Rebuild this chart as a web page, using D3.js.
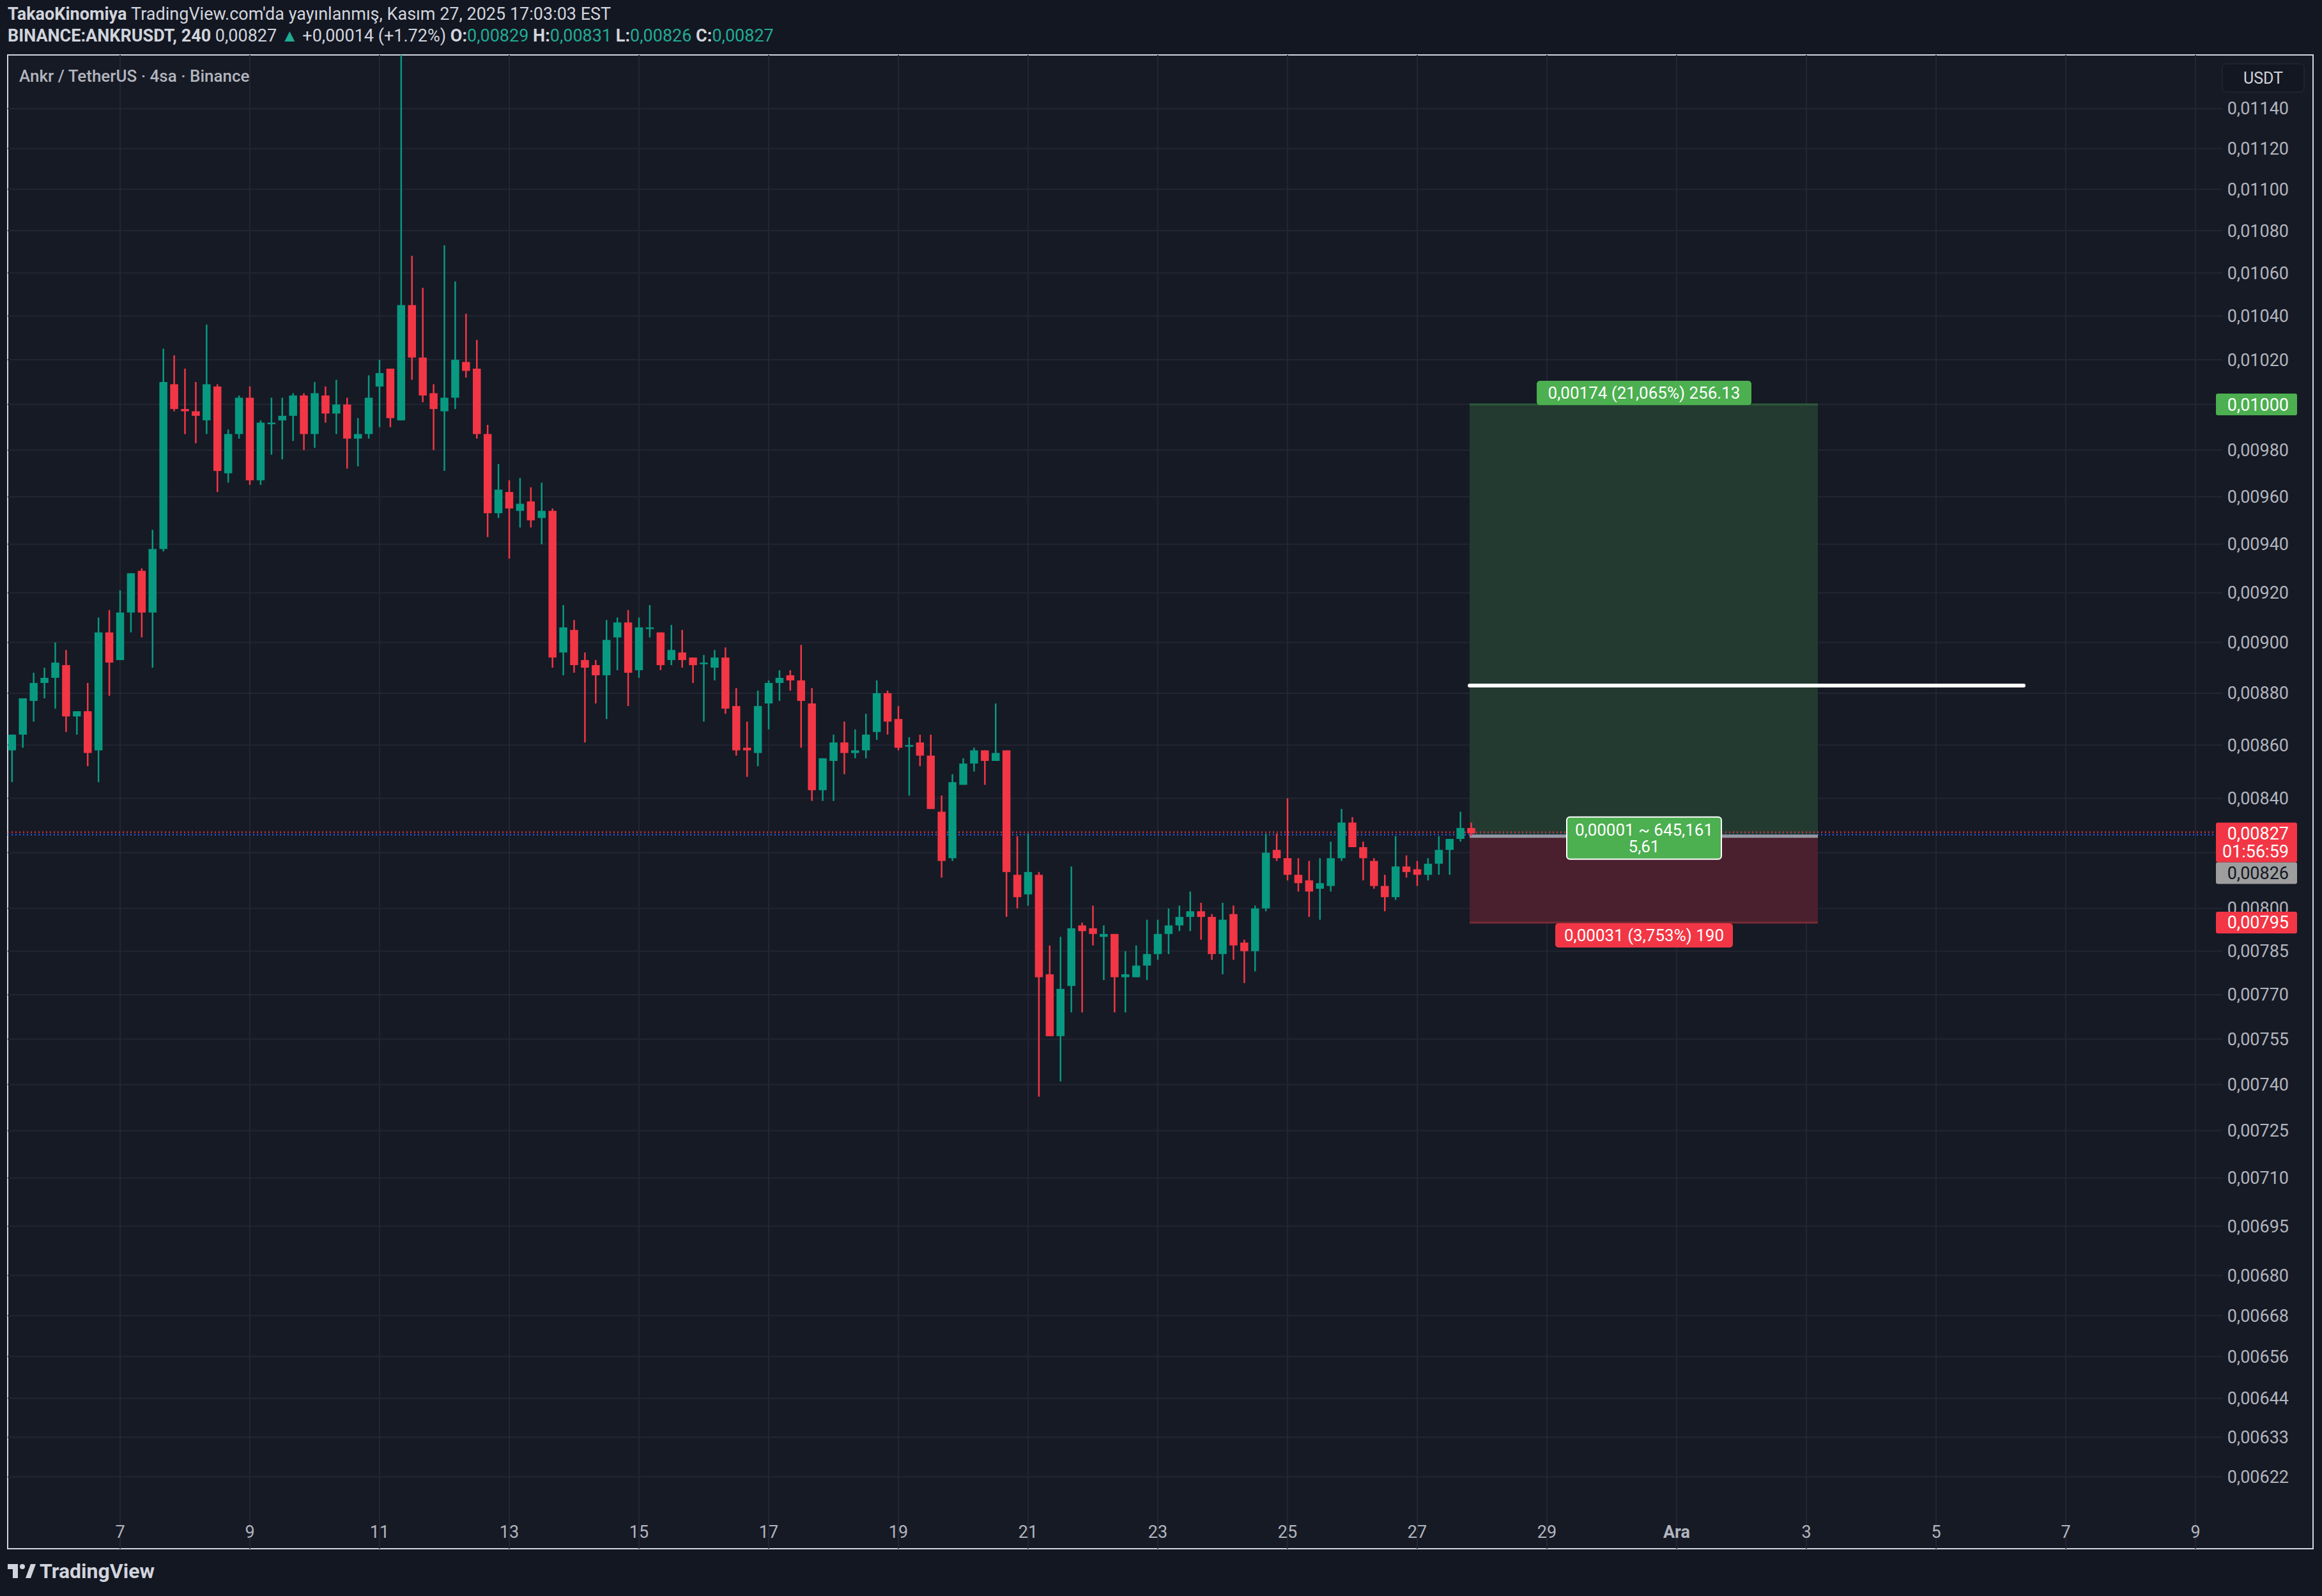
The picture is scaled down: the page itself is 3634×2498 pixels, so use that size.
<!DOCTYPE html>
<html><head><meta charset="utf-8">
<script src="https://cdn.jsdelivr.net/npm/d3@7"></script>
<style>body{margin:0;background:#131722;}svg{display:block;font-family:Roboto,"Noto Sans",sans-serif;}</style>
</head><body>
<script>
const openP=[0.00858,0.00864,0.00877,0.00884,0.00886,0.00891,0.00871,0.00873,0.00858,0.00904,0.00893,0.00912,0.00929,0.00912,0.00938,0.01009,0.00998,0.00997,0.00993,0.01008,0.00970,0.00987,0.01003,0.00967,0.00992,0.00993,0.00995,0.01004,0.00987,0.01004,0.00996,0.01000,0.00985,0.00987,0.01008,0.01016,0.00993,0.01045,0.01021,0.01005,0.00997,0.01003,0.01019,0.01016,0.00987,0.00953,0.00962,0.00954,0.00958,0.00951,0.00954,0.00896,0.00905,0.00893,0.00891,0.00887,0.00902,0.00908,0.00889,0.00906,0.00904,0.00893,0.00896,0.00894,0.00892,0.00890,0.00894,0.00875,0.00859,0.00857,0.00876,0.00884,0.00887,0.00885,0.00876,0.00843,0.00854,0.00861,0.00857,0.00858,0.00865,0.00880,0.00870,0.00860,0.00861,0.00856,0.00835,0.00818,0.00845,0.00853,0.00858,0.00854,0.00858,0.00812,0.00805,0.00812,0.00777,0.00756,0.00773,0.00794,0.00793,0.00790,0.00791,0.00776,0.00776,0.00780,0.00784,0.00791,0.00794,0.00797,0.00799,0.00797,0.00784,0.00798,0.00788,0.00785,0.00800,0.00821,0.00818,0.00812,0.00810,0.00807,0.00808,0.00818,0.00831,0.00822,0.00817,0.00808,0.00804,0.00815,0.00814,0.00812,0.00816,0.00821,0.00825,0.00829];
const highP=[0.00864,0.00878,0.00888,0.00890,0.00900,0.00897,0.00873,0.00884,0.00910,0.00913,0.00921,0.00928,0.00930,0.00946,0.01025,0.01022,0.01016,0.01010,0.01036,0.01009,0.00989,0.01004,0.01008,0.00993,0.01003,0.01003,0.01005,0.01005,0.01010,0.01008,0.01011,0.01003,0.00994,0.01013,0.01020,0.01016,0.01190,0.01068,0.01053,0.01009,0.01073,0.01056,0.01041,0.01029,0.00991,0.00974,0.00967,0.00968,0.00964,0.00966,0.00955,0.00915,0.00909,0.00896,0.00893,0.00909,0.00910,0.00913,0.00910,0.00915,0.00904,0.00907,0.00905,0.00894,0.00895,0.00897,0.00898,0.00882,0.00869,0.00881,0.00885,0.00889,0.00889,0.00899,0.00882,0.00855,0.00864,0.00869,0.00866,0.00872,0.00885,0.00881,0.00875,0.00863,0.00864,0.00864,0.00841,0.00849,0.00855,0.00859,0.00858,0.00876,0.00858,0.00826,0.00827,0.00813,0.00787,0.00790,0.00815,0.00795,0.00801,0.00794,0.00791,0.00785,0.00787,0.00796,0.00796,0.00800,0.00801,0.00806,0.00802,0.00798,0.00802,0.00801,0.00789,0.00801,0.00827,0.00827,0.00840,0.00818,0.00817,0.00818,0.00824,0.00836,0.00833,0.00824,0.00818,0.00812,0.00826,0.00819,0.00817,0.00818,0.00826,0.00825,0.00835,0.00831];
const lowP=[0.00846,0.00859,0.00869,0.00878,0.00874,0.00865,0.00864,0.00852,0.00846,0.00879,0.00893,0.00904,0.00902,0.00890,0.00937,0.00997,0.00987,0.00983,0.00987,0.00962,0.00966,0.00985,0.00965,0.00965,0.00978,0.00976,0.00984,0.00980,0.00981,0.00992,0.00987,0.00972,0.00973,0.00985,0.00990,0.00990,0.00993,0.01011,0.01001,0.00980,0.00971,0.00998,0.01012,0.00985,0.00943,0.00951,0.00934,0.00947,0.00947,0.00940,0.00890,0.00887,0.00888,0.00861,0.00876,0.00870,0.00889,0.00875,0.00886,0.00902,0.00889,0.00891,0.00890,0.00884,0.00869,0.00885,0.00872,0.00856,0.00848,0.00852,0.00866,0.00877,0.00881,0.00859,0.00839,0.00839,0.00839,0.00849,0.00855,0.00855,0.00862,0.00864,0.00858,0.00841,0.00852,0.00836,0.00811,0.00817,0.00845,0.00850,0.00845,0.00854,0.00797,0.00800,0.00801,0.00736,0.00756,0.00741,0.00764,0.00764,0.00787,0.00775,0.00764,0.00764,0.00776,0.00775,0.00782,0.00784,0.00792,0.00792,0.00789,0.00782,0.00777,0.00782,0.00774,0.00778,0.00799,0.00817,0.00810,0.00806,0.00797,0.00796,0.00806,0.00817,0.00822,0.00810,0.00807,0.00799,0.00803,0.00811,0.00808,0.00810,0.00812,0.00812,0.00824,0.00826];
const closeP=[0.00864,0.00878,0.00884,0.00886,0.00892,0.00871,0.00873,0.00857,0.00904,0.00892,0.00912,0.00928,0.00912,0.00938,0.01010,0.00998,0.00997,0.00995,0.01009,0.00971,0.00987,0.01003,0.00967,0.00992,0.00992,0.00995,0.01004,0.00987,0.01005,0.00996,0.01000,0.00985,0.00987,0.01003,0.01014,0.00994,0.01045,0.01021,0.01004,0.00998,0.01003,0.01020,0.01015,0.00987,0.00953,0.00963,0.00955,0.00957,0.00950,0.00954,0.00894,0.00906,0.00891,0.00890,0.00887,0.00901,0.00908,0.00888,0.00906,0.00906,0.00891,0.00897,0.00893,0.00891,0.00892,0.00894,0.00874,0.00858,0.00858,0.00875,0.00884,0.00886,0.00885,0.00877,0.00843,0.00855,0.00861,0.00857,0.00858,0.00864,0.00880,0.00869,0.00859,0.00860,0.00856,0.00836,0.00817,0.00846,0.00853,0.00858,0.00854,0.00857,0.00813,0.00804,0.00813,0.00776,0.00756,0.00772,0.00793,0.00792,0.00791,0.00791,0.00776,0.00777,0.00780,0.00784,0.00791,0.00794,0.00797,0.00799,0.00797,0.00784,0.00796,0.00787,0.00785,0.00800,0.00820,0.00818,0.00812,0.00809,0.00806,0.00809,0.00818,0.00831,0.00822,0.00818,0.00808,0.00804,0.00815,0.00813,0.00812,0.00816,0.00821,0.00825,0.00829,0.00827];
const priceTicks=[0.0114,0.0112,0.0110,0.0108,0.0106,0.0104,0.0102,0.0100,0.0098,0.0096,0.0094,0.0092,0.0090,0.0088,0.0086,0.0084,0.0080,0.00785,0.0077,0.00755,0.0074,0.00725,0.0071,0.00695,0.0068,0.00668,0.00656,0.00644,0.00633,0.00622];
const gridExtra=[0.0082];
const dateTicks=["2025-11-07","2025-11-09","2025-11-11","2025-11-13","2025-11-15","2025-11-17","2025-11-19","2025-11-21","2025-11-23","2025-11-25","2025-11-27","2025-11-29","2025-12-01","2025-12-03","2025-12-05","2025-12-07","2025-12-09"];
const dateLabels=["7","9","11","13","15","17","19","21","23","25","27","29","Ara","3","5","7","9"];
const position={target:0.01000,entry:0.00826,stop:0.00795,line:0.00883,last:0.00827};
const startT=Date.UTC(2025,10,5,8);
const H4=4*3600*1000;

const W=3634,Hh=2498;
const pl=12,pr=3478,pt=86,pb=2424;
const svg=d3.select("body").append("svg").attr("width",W).attr("height",Hh);
svg.append("rect").attr("width",W).attr("height",Hh).attr("fill","#131722");
svg.append("rect").attr("x",pl).attr("y",pt).attr("width",3620-pl).attr("height",pb-pt).attr("fill","#161a25").attr("stroke","#d1d4dc").attr("stroke-width",2);

const x=d3.scaleUtc().domain([new Date("2025-11-07T00:00Z"),new Date("2025-12-09T00:00Z")]).range([188,3436]);
const y=d3.scaleLog().domain([0.011674,0.006025]).range([pt,pb]);
const fmt=v=>v.toFixed(5).replace(".",",");

const g=svg.append("g");
g.selectAll(".hg").data(priceTicks.concat(gridExtra)).join("line").attr("x1",pl).attr("x2",pr).attr("y1",d=>y(d)).attr("y2",d=>y(d)).attr("stroke","#232632").attr("stroke-width",2);
g.selectAll(".vg").data(dateTicks).join("line").attr("x1",d=>x(new Date(d+"T00:00Z"))).attr("x2",d=>x(new Date(d+"T00:00Z"))).attr("y1",pt).attr("y2",pb).attr("stroke","#232632").attr("stroke-width",2);

svg.append("clipPath").attr("id","cp").append("rect").attr("x",pl).attr("y",pt).attr("width",pr-pl).attr("height",pb-pt);
const plot=svg.append("g").attr("clip-path","url(#cp)");

const px0=2300,px1=2845;
plot.append("rect").attr("x",px0).attr("width",px1-px0).attr("y",y(position.target)).attr("height",y(position.entry)-y(position.target)).attr("fill","#233a31");
plot.append("rect").attr("x",px0).attr("width",px1-px0).attr("y",y(position.entry)).attr("height",y(position.stop)-y(position.entry)).attr("fill","#4a202e");
plot.append("line").attr("x1",px0).attr("x2",px1).attr("y1",y(position.target)).attr("y2",y(position.target)).attr("stroke","#2e5a3a").attr("stroke-width",3);
plot.append("line").attr("x1",px0).attr("x2",px1).attr("y1",y(position.stop)).attr("y2",y(position.stop)).attr("stroke","#7a2a35").attr("stroke-width",3);

plot.append("line").attr("x1",pl).attr("x2",pr).attr("y1",y(position.last)-2).attr("y2",y(position.last)-2).attr("stroke","#f23645").attr("stroke-width",2).attr("stroke-dasharray","2,4");
plot.append("line").attr("x1",pl).attr("x2",pr).attr("y1",y(position.last)+2).attr("y2",y(position.last)+2).attr("stroke","#2962ff").attr("stroke-width",2).attr("stroke-dasharray","2,4");
plot.append("line").attr("x1",px0).attr("x2",px1).attr("y1",y(position.entry)).attr("y2",y(position.entry)).attr("stroke","#9598a1").attr("stroke-width",5);

const data=openP.map((o,i)=>({t:new Date(startT+i*H4),o,h:highP[i],l:lowP[i],c:closeP[i]}));
const bw=12.5;
const cg=plot.selectAll(".c").data(data).join("g");
cg.append("line").attr("x1",d=>x(d.t)).attr("x2",d=>x(d.t)).attr("y1",d=>y(d.h)).attr("y2",d=>y(d.l)).attr("stroke",d=>d.c>=d.o?"#089981":"#f23645").attr("stroke-width",2.5);
cg.append("rect").attr("x",d=>x(d.t)-bw/2).attr("width",bw).attr("y",d=>y(Math.max(d.o,d.c))).attr("height",d=>Math.max(2.5,Math.abs(y(d.o)-y(d.c)))).attr("fill",d=>d.c>=d.o?"#089981":"#f23645");

plot.append("line").attr("x1",px0).attr("x2",3167).attr("y1",y(position.line)).attr("y2",y(position.line)).attr("stroke","#ffffff").attr("stroke-width",6).attr("stroke-linecap","round");

function box(cx,cy,w,h,fill,lines,stroke){
  svg.append("rect").attr("x",cx-w/2).attr("y",cy-h/2).attr("width",w).attr("height",h).attr("rx",5).attr("fill",fill).attr("stroke",stroke||"none").attr("stroke-width",2);
  lines.forEach((t,i)=>svg.append("text").attr("x",cx).attr("y",cy-(lines.length-1)*13+i*26).attr("dy","0.35em").attr("text-anchor","middle").attr("fill","#fff").attr("font-size",26).text(t));
}
box(2573,y(position.target)-18,336,38,"#4caf50",["0,00174 (21,065%) 256.13"]);
box(2573,y(position.stop)+20,278,38,"#f23645",["0,00031 (3,753%) 190"]);
box(2573,y(position.entry)+3,242,66,"#4caf50",["0,00001 ~ 645,161","5,61"],"#ffffff");

const ax=svg.append("g");
ax.selectAll("text.pt").data(priceTicks).join("text").attr("x",3582).attr("y",d=>y(d)).attr("dy","0.35em").attr("text-anchor","end").attr("fill","#b2b5be").attr("font-size",27).text(d=>fmt(d));
function plabel(yy,fill,txt,tc,h,sub){
  ax.append("rect").attr("x",3468).attr("y",yy-17).attr("width",127).attr("height",h||34).attr("rx",3).attr("fill",fill);
  ax.append("text").attr("x",3582).attr("y",yy).attr("dy","0.35em").attr("text-anchor","end").attr("fill",tc).attr("font-size",27).text(txt);
  if(sub) ax.append("text").attr("x",3582).attr("y",yy+28).attr("dy","0.35em").attr("text-anchor","end").attr("fill",tc).attr("font-size",27).text(sub);
}
plabel(y(position.target),"#4caf50","0,01000","#fff");
plabel(y(position.stop),"#f23645","0,00795","#fff");
plabel(y(position.last)+62,"#9e9e9e","0,00826","#131722");
plabel(y(position.last),"#f23645","0,00827","#fff",62,"01:56:59");
ax.append("rect").attr("x",3478).attr("y",100).attr("width",128).attr("height",44).attr("rx",6).attr("fill","#131722").attr("stroke","#2a2e39");
ax.append("text").attr("x",3542).attr("y",122).attr("dy","0.35em").attr("text-anchor","middle").attr("fill","#d1d4dc").attr("font-size",25).text("USDT");

svg.selectAll("text.dt").data(dateTicks).join("text").attr("x",d=>x(new Date(d+"T00:00Z"))).attr("y",2398).attr("dy","0.35em").attr("text-anchor","middle").attr("fill","#b2b5be").attr("font-size",27).attr("font-weight",(d,i)=>dateLabels[i]==="Ara"?"bold":"normal").text((d,i)=>dateLabels[i]);

const h1=svg.append("text").attr("x",12).attr("y",31).attr("font-size",27).attr("fill","#d1d4dc");
h1.append("tspan").attr("font-weight","bold").text("TakaoKinomiya ");
h1.append("tspan").text("TradingView.com'da yayınlanmış, Kasım 27, 2025 17:03:03 EST");
const h2=svg.append("text").attr("x",12).attr("y",65).attr("font-size",27).attr("fill","#d1d4dc");
h2.append("tspan").attr("font-weight","bold").text("BINANCE:ANKRUSDT, 240 ");
h2.append("tspan").text("0,00827 ");
h2.append("tspan").attr("fill","#22ab94").text("▲ ");
h2.append("tspan").text("+0,00014 (+1.72%) ");
[["O:","0,00829"],["H:","0,00831"],["L:","0,00826"],["C:","0,00827"]].forEach(([k,v])=>{h2.append("tspan").attr("font-weight","bold").text(k);h2.append("tspan").attr("fill","#22ab94").text(v+" ");});
svg.append("text").attr("x",30).attr("y",128).attr("font-size",26).attr("font-weight",500).attr("fill","#b2b5be").text("Ankr / TetherUS · 4sa · Binance");
// logo
const lg=svg.append("g").attr("fill","#d1d4dc");
lg.append("rect").attr("x",12).attr("y",2448).attr("width",16).attr("height",8);
lg.append("rect").attr("x",20).attr("y",2448).attr("width",8).attr("height",22);
lg.append("circle").attr("cx",35).attr("cy",2452).attr("r",4);
lg.append("path").attr("d","M40,2470 L48,2448 L56,2448 L48,2470 Z");
svg.append("text").attr("x",62).attr("y",2470).attr("font-size",32).attr("font-weight","bold").attr("fill","#d1d4dc").text("TradingView");
</script></body></html>
